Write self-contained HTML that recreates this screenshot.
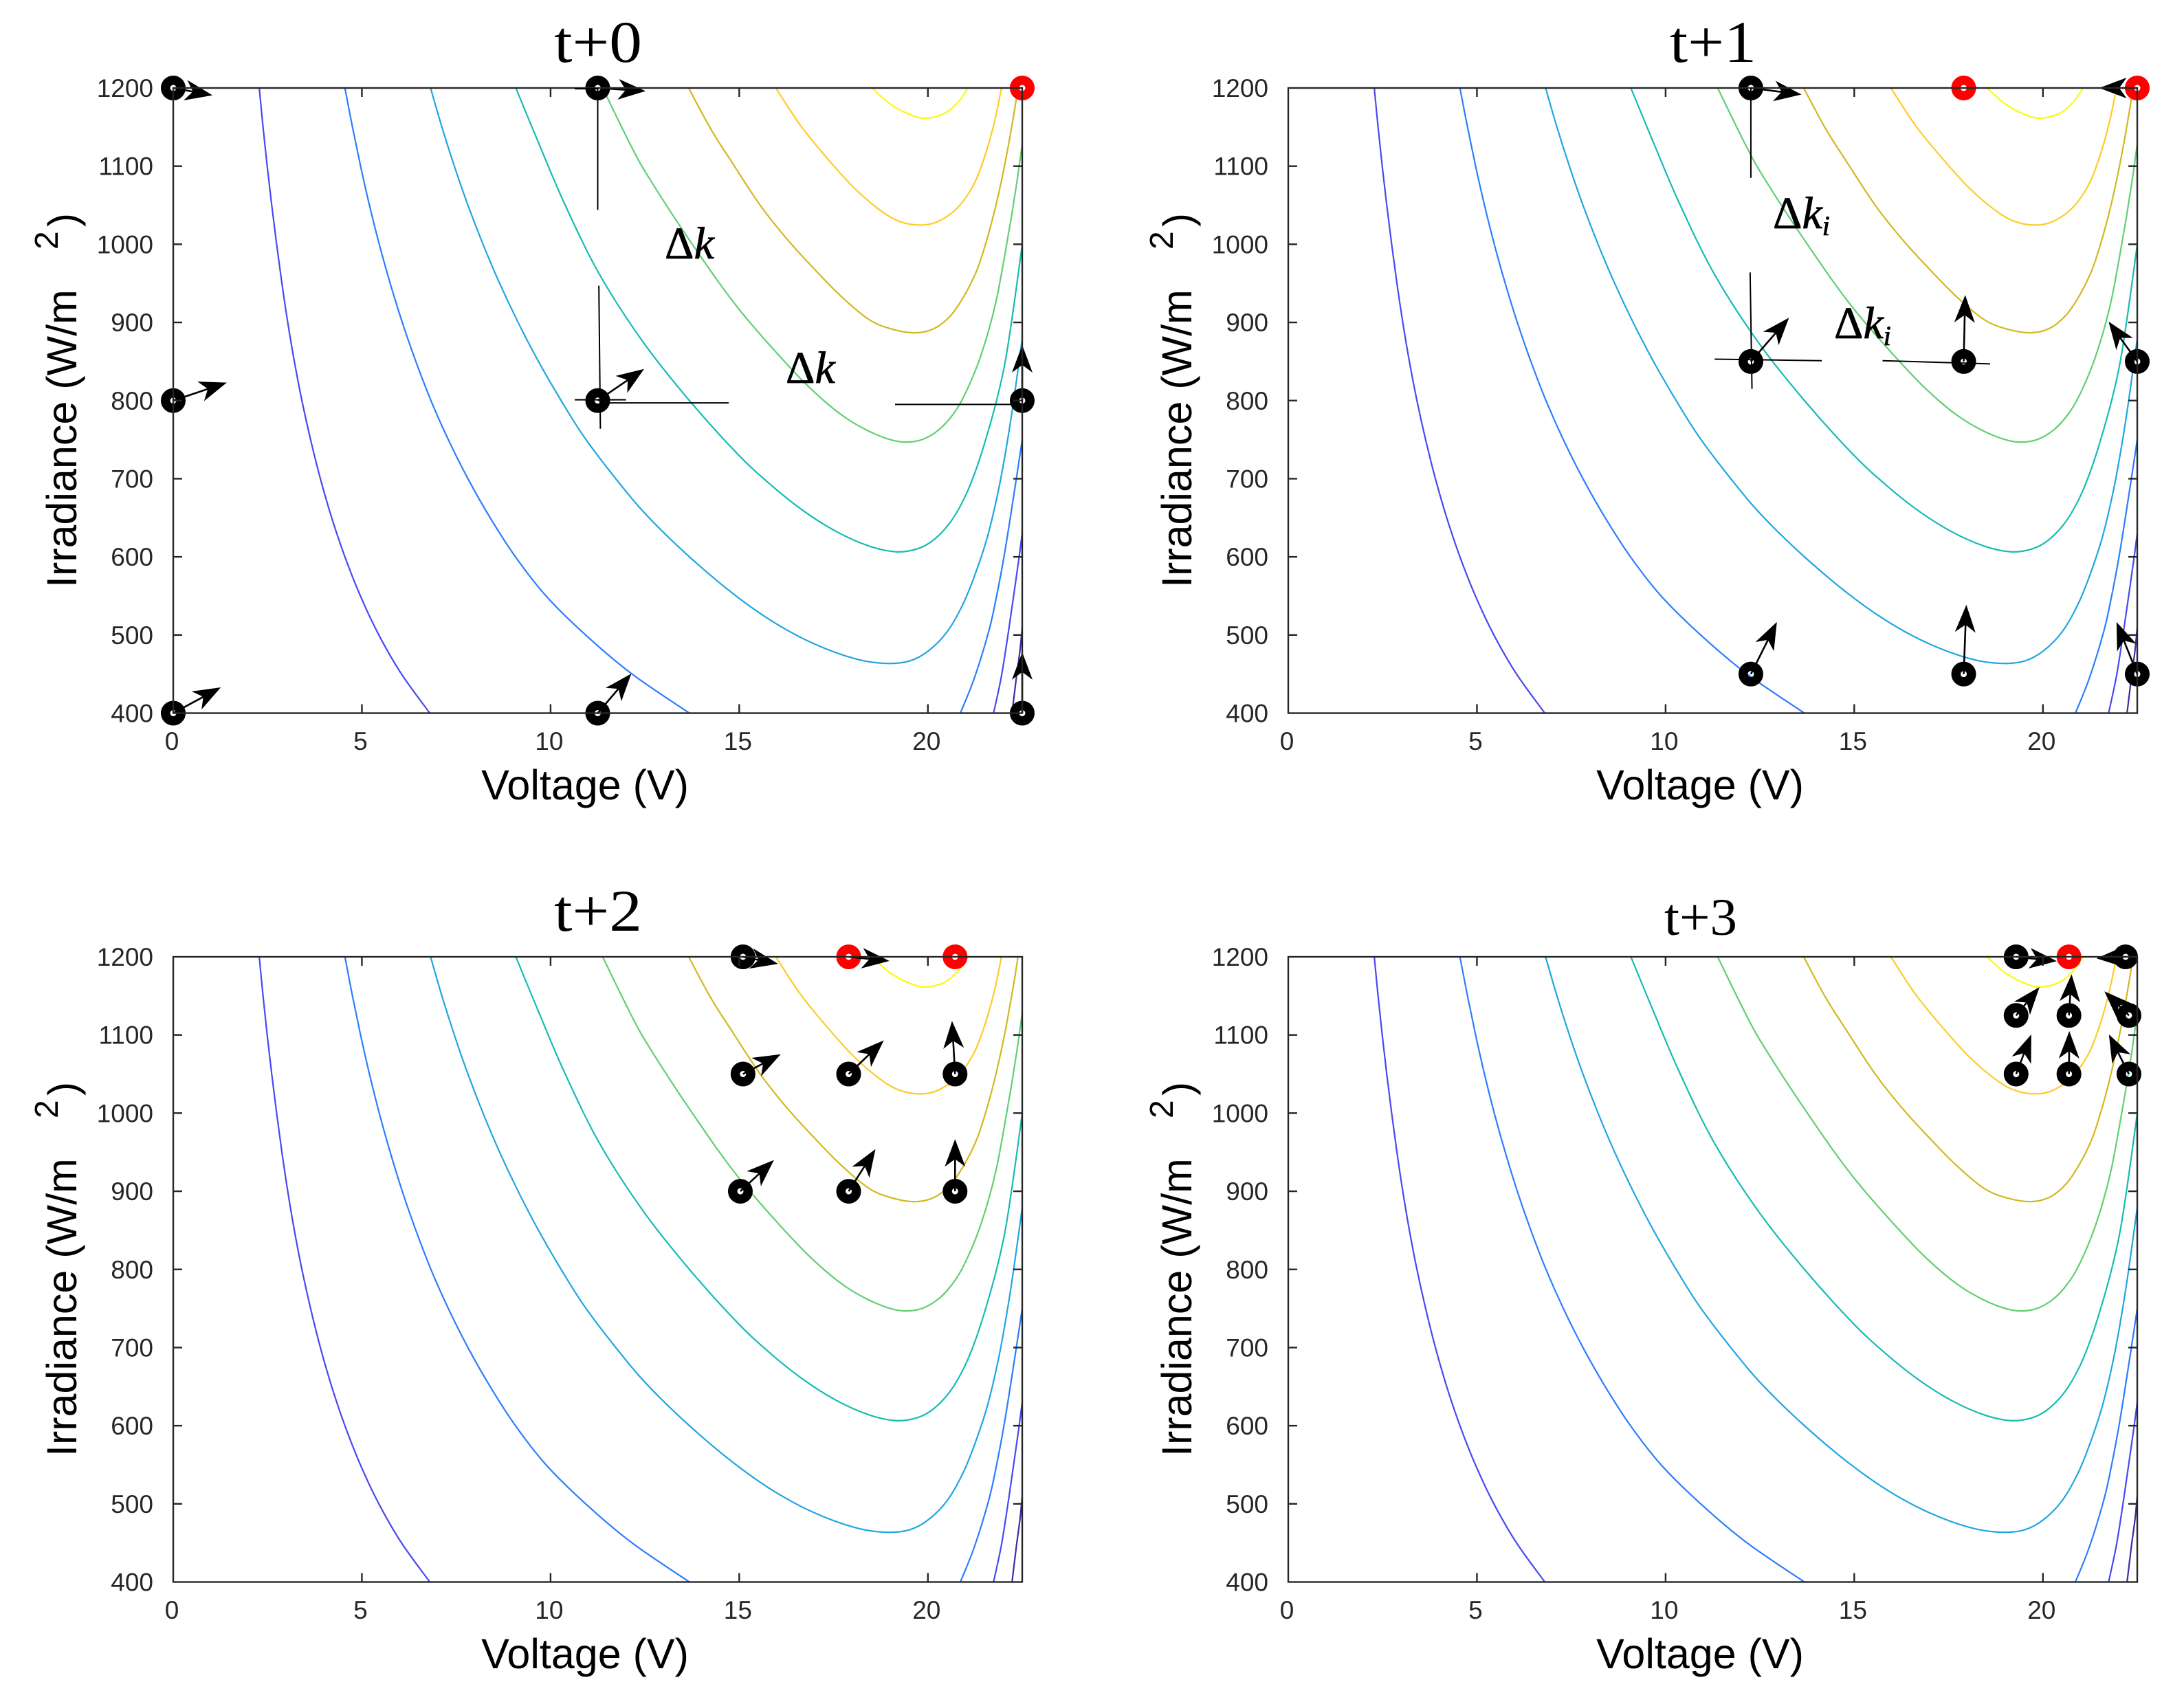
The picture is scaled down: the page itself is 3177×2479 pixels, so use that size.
<!DOCTYPE html>
<html lang="en">
<head>
<meta charset="utf-8">
<title>Swarm trajectory on irradiance-voltage contours</title>
<style>
html,body{margin:0;padding:0;background:#fff;}
svg{display:block;}
</style>
</head>
<body>
<svg id="figure" xmlns="http://www.w3.org/2000/svg" width="3177" height="2479" viewBox="0 0 3177 2479"></svg>
<script>
// Axis ticks
const xTickValues = [0, 5, 10, 15, 20];
const xTickLabels = ['0', '5', '10', '15', '20'];
const yTickValues = [400, 500, 600, 700, 800, 900, 1000, 1100, 1200];
const yTickLabels = ['400', '500', '600', '700', '800', '900', '1000', '1100', '1200'];

// Contour lines shared by all panels (voltage, irradiance)
const c1RightV = [22.23, 22.35, 22.44, 22.5];
const c1RightI = [400, 447.7, 480, 510];
const c2LeftV = [2.28, 2.38, 2.49, 2.61, 2.74, 2.88, 3.035, 3.21, 3.41, 3.64, 3.9, 4.2, 4.55, 4.96, 5.45, 6.05, 6.8];
const c2LeftI = [1200, 1150, 1100, 1050, 1000, 950, 900, 850, 800, 750, 700, 650, 600, 550, 500, 450, 400];
const c2RightV = [21.74, 21.95, 22.14, 22.29, 22.41, 22.5];
const c2RightI = [400, 447.7, 506, 556, 597, 630];
const c3LeftV = [4.55, 4.75, 4.965, 5.2, 5.46, 5.75, 6.07, 6.43, 6.83, 7.29, 7.81, 8.4, 9.07, 9.88, 10.93, 12.16, 13.68];
const c3LeftI = [1200, 1150, 1100, 1050, 1000, 950, 900, 850, 800, 750, 700, 650, 600, 550, 500, 450, 400];
const c3RightV = [20.86, 21.23, 21.62, 21.83, 22.02, 22.2, 22.35, 22.5];
const c3RightI = [400, 444.7, 506, 552, 601, 655, 702, 750];
const c4V = [6.82, 7.12, 7.45, 7.81, 8.21, 8.65, 9.14, 9.68, 10.28, 10.94, 11.95, 12.67, 13.68, 14.83, 15.91, 16.99, 18.07, 18.86, 19.51, 20.02, 20.52, 20.95, 21.31, 21.6, 21.89, 22.11, 22.27, 22.47, 22.5];
const c4I = [1200, 1150, 1100, 1050, 1000, 950, 900, 850, 800, 750, 686.7, 647, 600, 553.2, 516.5, 488.6, 469.6, 463.7, 466.7, 479.9, 504.8, 541.5, 585.5, 629.5, 690, 749, 799, 868.5, 878];
const c5V = [9.08, 9.68, 10.37, 11.29, 12.45, 13.68, 14.97, 15.84, 16.7, 17.57, 18.43, 19.15, 19.73, 20.16, 20.59, 20.95, 21.24, 21.5, 21.82, 22.05, 22.25, 22.47, 22.5];
const c5I = [1200, 1130, 1052, 962, 875, 800, 731, 692, 659, 632.5, 614, 606.5, 610.4, 622, 644, 673.5, 707, 745, 800, 850, 912, 989, 998];
const c6V = [11.38, 12.09, 12.6, 13.75, 14.97, 16.41, 17.24, 17.85, 18.43, 19, 19.44, 19.87, 20.3, 20.66, 20.95, 21.31, 21.6, 21.82, 22.03, 22.21, 22.36, 22.47, 22.5];
const c6I = [1200, 1130, 1085.6, 1000.5, 918.4, 839, 800, 777, 761, 750, 746.8, 750.5, 763, 782, 805, 845, 888, 930, 984, 1034, 1080, 1118, 1128];
const c7V = [13.66, 14.25, 14.83, 15.55, 16.27, 16.99, 17.71, 18.43, 19.01, 19.66, 20.16, 20.59, 20.95, 21.31, 21.6, 21.82, 22.03, 22.21, 22.36, 22.38];
const c7I = [1200, 1147.2, 1103.2, 1050.4, 1006.4, 968.3, 933, 904, 892, 886.7, 892, 908.1, 933, 968.3, 1012.3, 1053.3, 1100.3, 1147.2, 1191, 1200];
const c8V = [15.97, 16.63, 17.35, 18.07, 18.79, 19.3, 19.84, 20.3, 20.8, 21.23, 21.53, 21.77, 21.95];
const c8I = [1200, 1151.6, 1109, 1070.9, 1041.6, 1028.4, 1024.6, 1029.9, 1047.5, 1078, 1116, 1158, 1200];
const c9V = [18.52, 19, 19.51, 19.94, 20.45, 20.81, 21.06];
const c9I = [1200, 1179.5, 1166.3, 1161.3, 1167.7, 1182.4, 1200];

// Panel t+0
const p0BlackV = [0, 11.25, 0, 11.25, 22.5, 0, 11.25, 22.5];
const p0BlackI = [1200, 1200, 800, 800, 800, 400, 400, 400];
const p0RedV = [22.5];
const p0RedI = [1200];
const p0ArrowV = [0, 11.25, 0, 11.25, 22.5, 0, 11.25, 22.5];
const p0ArrowI = [1200, 1200, 800, 800, 800, 400, 400, 400];
const p0TipV = [1.04, 12.52, 1.42, 12.48, 22.5, 1.26, 12.14, 22.5];
const p0TipI = [1190.7, 1196, 823, 840.5, 871, 433, 450.6, 478];

// Panel t+1
const p1BlackV = [12.26, 12.26, 17.9, 22.5, 12.26, 17.9, 22.5];
const p1BlackI = [1200, 850, 850, 850, 450, 450, 450];
const p1RedV = [17.9, 22.5];
const p1RedI = [1200, 1200];
const p1ArrowV = [12.26, 22.5, 12.26, 17.9, 22.5, 12.26, 17.9, 22.5];
const p1ArrowI = [1200, 1200, 850, 850, 850, 450, 450, 450];
const p1TipV = [13.6, 21.49, 13.27, 17.94, 21.74, 12.95, 17.97, 21.95];
const p1TipI = [1191.6, 1200, 906, 935, 901, 516.6, 538.6, 516.6];

// Panel t+2
const p2BlackV = [15.1, 15.1, 17.9, 20.72, 15.03, 17.9, 20.72];
const p2BlackI = [1200, 1050, 1050, 1050, 900, 900, 900];
const p2RedV = [17.9, 20.72];
const p2RedI = [1200, 1200];
const p2ArrowV = [15.1, 17.9, 15.1, 17.9, 20.72, 15.03, 17.9, 20.72];
const p2ArrowI = [1200, 1200, 1050, 1050, 1050, 900, 900, 900];
const p2TipV = [16.03, 18.98, 16.1, 18.83, 20.64, 15.92, 18.61, 20.72];
const p2TipI = [1191, 1194.7, 1075.3, 1093, 1118, 940, 954, 966.6];

// Panel t+3
const p3BlackV = [19.29, 22.19, 19.29, 20.69, 22.28, 19.29, 20.69, 22.28];
const p3BlackI = [1200, 1200, 1125, 1125, 1125, 1050, 1050, 1050];
const p3RedV = [20.69];
const p3RedI = [1200];
const p3ArrowV = [19.29, 22.19, 19.29, 20.69, 22.28, 19.29, 20.69, 22.28];
const p3ArrowI = [1200, 1200, 1125, 1125, 1125, 1050, 1050, 1050];
const p3TipV = [20.37, 21.42, 19.91, 20.76, 21.63, 19.69, 20.7, 21.75];
const p3TipI = [1194.5, 1198, 1161.3, 1177.7, 1155.8, 1100.6, 1105, 1100.6];

// Annotation guide lines (voltage / irradiance endpoints)
const p0GuideV1 = [11.25, 10.64, 11.28, 10.64, 11.34, 19.13];
const p0GuideI1 = [1200, 1199, 947, 801, 797, 795];
const p0GuideV2 = [11.25, 11.25, 11.32, 12.0, 14.72, 22.5];
const p0GuideI2 = [1044, 1199, 764, 801, 797, 795];
const p1GuideV1 = [12.26, 11.3, 12.24, 15.75];
const p1GuideI1 = [1200, 853, 964, 851];
const p1GuideV2 = [12.26, 14.14, 12.29, 18.6];
const p1GuideI2 = [1085, 851, 815, 847];

const NS = 'http://www.w3.org/2000/svg';
const AXIS_LEFT = 252, AXIS_WIDTH = 1235, AXIS_TOP = 128, AXIS_HEIGHT = 909.5;
const INK = '#262626';
const svg = document.getElementById('figure');

function make(tag, parent, attrs) {
  const el = document.createElementNS(NS, tag);
  for (const k in attrs) el.setAttribute(k, attrs[k]);
  parent.appendChild(el);
  return el;
}
function xScale(ox, v) { return ox + AXIS_LEFT + v / 22.5 * AXIS_WIDTH; }
function yScale(oy, i) { return oy + AXIS_TOP + (1200 - i) / 800 * AXIS_HEIGHT; }

function smoothPath(ox, oy, vs, is) {
  const p = vs.map((v, k) => [xScale(ox, v), yScale(oy, is[k])]);
  let d = 'M' + p[0][0].toFixed(2) + ' ' + p[0][1].toFixed(2);
  for (let k = 0; k < p.length - 1; k++) {
    const a = p[Math.max(k - 1, 0)], b = p[k], c = p[k + 1], e = p[Math.min(k + 2, p.length - 1)];
    const c1x = b[0] + (c[0] - a[0]) / 6, c1y = b[1] + (c[1] - a[1]) / 6;
    const c2x = c[0] - (e[0] - b[0]) / 6, c2y = c[1] - (e[1] - b[1]) / 6;
    d += 'C' + c1x.toFixed(2) + ' ' + c1y.toFixed(2) + ' ' + c2x.toFixed(2) + ' ' + c2y.toFixed(2) + ' ' + c[0].toFixed(2) + ' ' + c[1].toFixed(2);
  }
  return d;
}

function drawContours(group, ox, oy) {
  const lines = [
    [c1RightV, c1RightI, '#3d2aa9', 'contour-1-right'],
    [c2LeftV, c2LeftI, '#4848f2', 'contour-2-left'],
    [c2RightV, c2RightI, '#4848f2', 'contour-2-right'],
    [c3LeftV, c3LeftI, '#2b7dff', 'contour-3-left'],
    [c3RightV, c3RightI, '#2b7dff', 'contour-3-right'],
    [c4V, c4I, '#1fa6e2', 'contour-4'],
    [c5V, c5I, '#15bcb4', 'contour-5'],
    [c6V, c6I, '#60cf72', 'contour-6'],
    [c7V, c7I, '#d2b81f', 'contour-7'],
    [c8V, c8I, '#ffcb26', 'contour-8'],
    [c9V, c9I, '#fafa10', 'contour-9']
  ];
  lines.forEach(function (line) {
    const path = make('path', group, { d: smoothPath(ox, oy, line[0], line[1]), fill: 'none', stroke: line[2], 'stroke-width': 2.2 });
    
    
  });
}

function drawAxes(group, ox, oy) {
  const L = xScale(ox, 0), R = xScale(ox, 22.5), T = yScale(oy, 1200), B = yScale(oy, 400);
  const box = make('rect', group, { x: L, y: T, width: R - L, height: B - T, fill: 'none', stroke: INK, 'stroke-width': 2.4 });
  
  
  xTickValues.forEach(function (v, k) {
    const x = xScale(ox, v);
    if (k > 0) {
      const t1 = make('line', group, { x1: x, x2: x, y1: B, y2: B - 13, stroke: INK, 'stroke-width': 2.4 });
      
      
      const t2 = make('line', group, { x1: x, x2: x, y1: T, y2: T + 13, stroke: INK, 'stroke-width': 2.4 });
      
      
    }
    const lab = make('text', group, { x: x - 2, y: B + 53.5, 'text-anchor': 'middle', 'font-family': '"Liberation Sans", sans-serif', 'font-size': 37, fill: INK });
    lab.textContent = xTickLabels[k];
    
    
  });
  yTickValues.forEach(function (i, k) {
    const y = yScale(oy, i);
    if (k > 0 && k < yTickValues.length - 1) {
      const t1 = make('line', group, { x1: L, x2: L + 13, y1: y, y2: y, stroke: INK, 'stroke-width': 2.4 });
      
      
      const t2 = make('line', group, { x1: R, x2: R - 13, y1: y, y2: y, stroke: INK, 'stroke-width': 2.4 });
      
      
    }
    const lab = make('text', group, { x: ox + 223, y: y + 13, 'text-anchor': 'end', 'font-family': '"Liberation Sans", sans-serif', 'font-size': 37, fill: INK });
    lab.textContent = yTickLabels[k];
    
    
  });
  const xt = make('text', group, { x: ox + 851, y: oy + 1163, 'text-anchor': 'middle', 'font-family': '"Liberation Sans", sans-serif', 'font-size': 61, fill: '#000' });
  xt.textContent = 'Voltage (V)';
  
  
  const yt = make('text', group, { transform: 'translate(' + (ox + 111) + ' ' + (oy + 855) + ') rotate(-90)', 'font-family': '"Liberation Sans", sans-serif', 'font-size': 61, fill: '#000' });
  yt.textContent = 'Irradiance (W/m';
  
  
  const ys = make('text', group, { transform: 'translate(' + (ox + 84) + ' ' + (oy + 363) + ') rotate(-90)', 'font-family': '"Liberation Sans", sans-serif', 'font-size': 48, fill: '#000' });
  ys.textContent = '2';
  
  
  const yp = make('text', group, { transform: 'translate(' + (ox + 112) + ' ' + (oy + 330) + ') rotate(-90)', 'font-family': '"Liberation Sans", sans-serif', 'font-size': 60, fill: '#000' });
  yp.textContent = ')';
  
  
}

function drawMarkers(group, ox, oy, vs, is, color, name) {
  vs.forEach(function (v, k) {
    const c = make('circle', group, { cx: xScale(ox, v), cy: yScale(oy, is[k]), r: 11.25, fill: 'none', stroke: color, 'stroke-width': 13.5 });
    
    
  });
}

function drawArrows(group, ox, oy, sv, si, tv, ti) {
  sv.forEach(function (v, k) {
    const x0 = xScale(ox, v), y0 = yScale(oy, si[k]);
    const x1 = xScale(ox, tv[k]), y1 = yScale(oy, ti[k]);
    const len = Math.hypot(x1 - x0, y1 - y0) || 1;
    const ux = (x1 - x0) / len, uy = (y1 - y0) / len;
    const nx = -uy, ny = ux;
    const shaft = make('line', group, { x1: x0, y1: y0, x2: x1 - ux * 28, y2: y1 - uy * 28, stroke: '#000', 'stroke-width': 2.6 });
    
    
    const pts = [
      [x1, y1],
      [x1 - ux * 40 + nx * 15, y1 - uy * 40 + ny * 15],
      [x1 - ux * 29, y1 - uy * 29],
      [x1 - ux * 40 - nx * 15, y1 - uy * 40 - ny * 15]
    ].map(function (p) { return p[0].toFixed(1) + ',' + p[1].toFixed(1); }).join(' ');
    const head = make('polygon', group, { points: pts, fill: '#000' });
    
    
  });
}

function drawGuides(group, ox, oy, v1, i1, v2, i2) {
  v1.forEach(function (v, k) {
    const l = make('line', group, { x1: xScale(ox, v), y1: yScale(oy, i1[k]), x2: xScale(ox, v2[k]), y2: yScale(oy, i2[k]), stroke: '#000', 'stroke-width': 2 });
    
    
  });
}

function drawDelta(group, x, y, sub) {
  const t = make('text', group, { x: x, y: y, 'font-family': '"Liberation Serif", serif', 'font-size': 66, 'stroke': '#000', 'stroke-width': 0.8, fill: '#000' });
  const d = make('tspan', t, {});
  d.textContent = 'Δ';
  const k = make('tspan', t, { 'font-style': 'italic' });
  k.textContent = 'k';
  if (sub) {
    const s = make('tspan', t, { 'font-style': 'italic', 'font-size': 40, dy: 10 });
    s.textContent = 'i';
  }
  
  
}

function drawTitle(group, text, cx, baseline, size, width) {
  const t = make('text', group, { x: cx, y: baseline, 'text-anchor': 'middle', 'font-family': '"Liberation Serif", serif', 'font-size': size, textLength: width, lengthAdjust: 'spacingAndGlyphs', fill: '#000' });
  t.textContent = text;
  
  
}

function panel(name, ox, oy, black, red, arrows) {
  const g = make('g', svg, {});
  
  
  drawContours(g, ox, oy);
  drawMarkers(g, ox, oy, black[0], black[1], '#000', 'particle-marker');
  drawMarkers(g, ox, oy, red[0], red[1], '#ff0000', 'best-particle-marker');
  drawArrows(g, ox, oy, arrows[0], arrows[1], arrows[2], arrows[3]);
  drawAxes(g, ox, oy);
  return g;
}

const DX = 1622, DY = 1264;
const g0 = panel('panel-t0', 0, 0, [p0BlackV, p0BlackI], [p0RedV, p0RedI], [p0ArrowV, p0ArrowI, p0TipV, p0TipI]);
drawGuides(g0, 0, 0, p0GuideV1, p0GuideI1, p0GuideV2, p0GuideI2);
drawDelta(g0, 967, 376, false);
drawDelta(g0, 1143, 557, false);
drawTitle(g0, 't+0', 870, 90, 86, 128);

const g1 = panel('panel-t1', DX, 0, [p1BlackV, p1BlackI], [p1RedV, p1RedI], [p1ArrowV, p1ArrowI, p1TipV, p1TipI]);
drawGuides(g1, DX, 0, p1GuideV1, p1GuideI1, p1GuideV2, p1GuideI2);
drawDelta(g1, 2579, 332, true);
drawDelta(g1, 2668, 492, true);
drawTitle(g1, 't+1', 2492, 90, 86, 126);

const g2 = panel('panel-t2', 0, DY, [p2BlackV, p2BlackI], [p2RedV, p2RedI], [p2ArrowV, p2ArrowI, p2TipV, p2TipI]);
drawTitle(g2, 't+2', 870, 1354, 86, 128);

const g3 = panel('panel-t3', DX, DY, [p3BlackV, p3BlackI], [p3RedV, p3RedI], [p3ArrowV, p3ArrowI, p3TipV, p3TipI]);
drawTitle(g3, 't+3', 2474, 1360, 76, 106);
</script>
</body>
</html>
